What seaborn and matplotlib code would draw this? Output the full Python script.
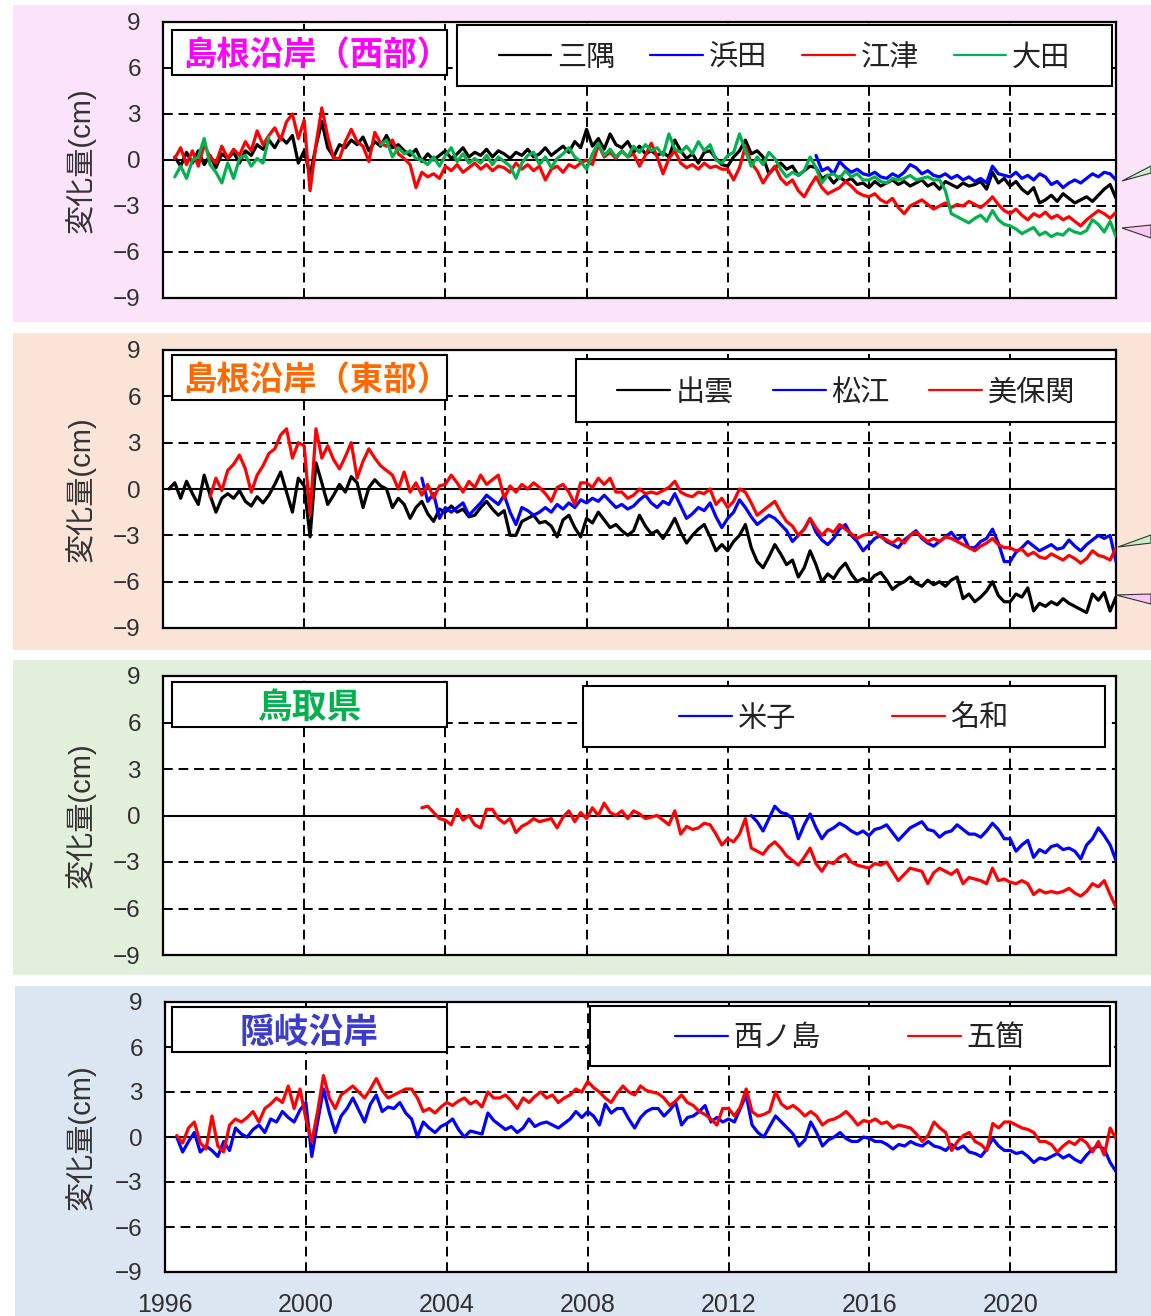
import numpy as np
import matplotlib
matplotlib.use("Agg")
import matplotlib.pyplot as plt
import seaborn as sns
from matplotlib.patches import Rectangle, Polygon
from matplotlib.lines import Line2D
from matplotlib.font_manager import FontProperties

nan = np.nan
STEP = 1 / 6  # two-monthly samples (years)

# ---------------- 島根沿岸(西部) ----------------
misumi_start = 1996 + 2 / 6
misumi = [
    0.2, -0.4, 0.5, -0.2,
    0.6, -0.3, 0.3, -0.5, 0.4, 0.1,
    0.5, -0.2, 0.6, 0.3, 1.0, 0.7,
    1.3, 0.8, 1.5, 1.1, 1.6, -0.2,
    0.6, -1.0, 0.9, 2.5, 0.8, 0.2,
    1.0, 0.8, 1.3, 1.0, 1.5, 0.6,
    1.2, 0.9, 1.6, 0.8, 1.0, 0.6,
    0.3, 0.7, -0.1, 0.4, 0.0, 0.3,
    0.6, 0.1, 0.4, 0.8, 0.2, 0.5,
    0.3, 0.7, 0.2, 0.6, 0.4, 0.1,
    0.5, 0.3, 0.7, 0.2, 0.4, 0.8,
    0.3, 0.6, 0.9, 0.5, 1.2, 0.8,
    2.0, 0.9, 1.4, 0.7, 1.7, 1.0,
    0.8, 1.2, 0.5, 0.9, 0.4, 0.6,
    0.3, 0.5, 0.2, 1.3, 0.6, 0.1,
    0.4, -0.2, 0.5, 0.6, 0.1, -0.3,
    -0.4, 0.2, 0.6, 1.3, 0.4, 0.6,
    0.2, -0.9, -0.5, -0.2, -0.6, -0.4,
    -1.0, -0.7, -0.4, -0.5, -1.2, -1.0,
    -1.5, -1.1, -1.4, -1.2, -1.6, -1.5,
    -1.8, -1.4, -1.7, -1.5, -1.3, -1.6,
    -1.4, -1.7, -1.5, -1.3, -1.7, -1.5,
    -1.9, -1.4, -1.6, -1.8, -1.5, -1.7,
    -1.6, -1.4, -1.9, -0.8, -1.5, -1.2,
    -1.7, -1.4, -1.9, -2.2, -1.8, -2.8,
    -2.6, -2.3, -2.7, -2.2, -2.5, -2.8,
    -2.6, -2.4, -2.7, -2.3, -1.9, -1.6,
    -2.5,
]
hamada_start = 2014.5
hamada = [
    0.3, -0.7, -0.5,
    -0.9, -0.1, -0.5, -0.8, -0.6, -0.9,
    -1.0, -0.8, -1.1, -1.2, -0.9, -1.1,
    -0.8, -0.3, -0.5, -0.9, -0.7, -1.0,
    -1.1, -0.9, -1.2, -1.0, -1.3, -1.1,
    -1.4, -1.2, -1.5, -0.4, -0.9, -1.0,
    -1.1, -0.8, -1.2, -1.0, -1.3, -0.9,
    -1.1, -1.6, -1.4, -1.8, -1.5, -1.3,
    -1.5, -1.2, -0.9, -1.1, -0.8, -0.9,
    -1.3,
]
gotsu_start = 1996 + 2 / 6
gotsu = [
    0.1, 0.8, -0.3, 0.6,
    -0.4, 1.0, 0.2, -0.2, 0.9, 0.1,
    0.7, 0.3, 1.2, 0.6, 1.9, 1.0,
    1.6, 2.1, 1.3, 2.5, 3.0, 1.4,
    2.6, -2.0, 1.0, 3.4, 1.5, 0.1,
    0.1, 1.2, 2.0, 1.2, 0.9, -0.1,
    1.8, 1.1, 0.9, 1.3, 0.4, 0.1,
    -0.3, -1.8, -0.8, -1.1, -0.9, -1.2,
    -0.4, -0.7, -0.3, -0.8, -0.5, -0.2,
    -0.6, -0.3, -0.7, -0.4, -0.5, -0.8,
    -0.2, -0.6, -0.3, -0.7, -0.4, -1.3,
    -0.6, -0.4, -0.8, -0.3, -0.5, -0.2,
    0.0, -0.3, 1.0, 0.2, 0.5, 0.1,
    0.6, 0.2, 0.4, -0.4, 0.3, 1.1,
    0.2, -0.9, 0.1, 0.6, -0.2, -0.5,
    -0.3, -0.6, -0.2, -0.5, -0.4, -0.6,
    -0.6, -1.3, -0.5, 0.9, -0.2, -0.7,
    -1.5, -0.9, -0.4, -1.2, -1.6, -1.3,
    -2.0, -2.4, -1.7, -1.1, -1.8, -2.2,
    -2.0, -1.8, -1.4, -1.7, -2.1, -2.3,
    -2.4, -2.2, -2.6, -2.8, -2.5, -3.1,
    -3.5, -3.0, -2.8, -2.6, -2.9, -3.2,
    -3.0, -2.8, -3.1, -2.9, -3.0, -2.7,
    -2.9, -3.1, -2.8, -2.4, -2.9, -3.3,
    -3.5, -3.2, -3.6, -3.9, -3.5, -3.7,
    -3.4, -3.8, -3.6, -3.9, -3.7, -4.0,
    -4.3, -3.9, -3.6, -3.3, -3.5, -3.8,
    -3.4,
]
ooda_start = 1996 + 2 / 6
ooda = [
    -1.1, -0.4, -1.2, 0.0,
    0.2, 1.4, -0.3, -0.8, -1.5, -0.2,
    -1.2, 0.1, 0.3, -0.4, 0.1, -0.2,
    1.5, nan, nan, nan, nan, nan,
    nan, nan, nan, nan, nan, nan,
    nan, nan, nan, nan, nan, nan,
    nan, 1.0, 1.3, 0.2, 0.8, 0.4,
    0.6, 0.1, 0.0, -0.3, 0.2, -0.4,
    0.3, 0.8, -0.1, 0.4, -0.2, 0.1,
    -0.2, 0.3, -0.3, 0.2, -0.1, -0.4,
    -1.2, -0.2, 0.3, 0.5, -0.3, 0.2,
    -0.5, 0.1, 0.4, 0.8, 0.2, -0.1,
    -0.6, 0.4, 1.1, 0.3, 0.7, 0.2,
    0.6, 0.2, 0.9, 0.5, 1.0, 0.6,
    0.8, 0.3, 1.7, 0.7, 0.5, 0.9,
    0.4, 1.2, 0.6, 1.0, 0.0, -0.2,
    0.3, 0.5, 1.7, 0.6, -0.4, 0.2,
    -0.3, 0.5, 0.1, -0.6, -1.1, -0.8,
    -1.0, -0.7, 0.2, -0.5, -1.5, -1.0,
    -0.9, -1.2, -0.7, -1.1, -0.9, -1.3,
    -1.3, -1.1, -1.4, -1.5, -1.2, -1.3,
    -1.2, -1.0, -1.3, -1.2, -1.1, -1.3,
    -1.3, -2.0, -3.5, -3.7, -3.9, -4.1,
    -3.8, -3.6, -4.0, -3.3, -3.9, -4.2,
    -4.3, -4.5, -4.8, -4.6, -4.4, -4.9,
    -4.7, -5.0, -4.8, -4.9, -4.5, -4.7,
    -4.8, -4.6, -3.9, -4.2, -4.7, -4.0,
    -5.0,
]

# ---------------- 島根沿岸(東部) ----------------
izumo_start = 1996 + 1 / 6
izumo = [
    0.0, 0.4, -0.6, 0.5, -0.3,
    -1.0, 0.9, -0.4, -1.5, -0.6, -0.3,
    -0.6, -0.1, -0.8, -1.1, -0.5, -0.9,
    -0.4, 0.3, 1.1, -0.2, -1.5, 0.7,
    0.2, -3.1, 1.7, 0.4, -1.0, -0.4,
    0.3, -0.2, 0.8, 0.4, -1.2, 0.1,
    0.6, 0.2, 0.0, -1.2, -0.6, -1.0,
    -1.9, -1.2, -0.8, -1.6, -2.1, -1.3,
    -1.5, -1.1, -1.5, -1.3, -1.8, -1.7,
    -1.2, -0.8, -1.3, -1.7, -1.4, -3.0,
    -3.0, -2.1, -1.9, -1.7, -2.2, -2.1,
    -2.4, -3.1, -2.0, -1.7, -2.5, -3.1,
    -1.9, -2.2, -1.5, -2.0, -2.5, -2.3,
    -2.7, -3.0, -2.7, -1.7, -2.4, -2.9,
    -2.7, -3.2, -2.6, -1.9, -2.8, -3.5,
    -3.0, -2.6, -2.3, -3.1, -4.0, -3.6,
    -4.0, -3.4, -3.0, -2.3, -3.8, -4.7,
    -5.1, -4.4, -3.6, -4.2, -4.9, -4.6,
    -5.7, -5.1, -4.0, -4.9, -6.0, -5.5,
    -5.8, -5.2, -4.8, -5.5, -6.0, -5.8,
    -6.0, -5.6, -5.4, -5.9, -6.5, -6.2,
    -6.0, -5.7, -6.1, -6.3, -5.9, -6.2,
    -6.0, -6.3, -5.9, -5.7, -7.1, -6.8,
    -7.3, -7.0, -6.6, -6.0, -6.9, -7.3,
    -7.3, -6.8, -7.0, -6.4, -7.9, -7.4,
    -7.6, -7.3, -7.5, -7.1, -7.4, -7.6,
    -7.8, -8.0, -6.8, -7.2, -6.7, -7.9,
    -7.0,
]
matsue_start = 2003 + 2 / 6
matsue = [
    0.7, -0.8, -0.3, -1.9,
    -1.2, -1.5, -1.2, -0.9, -1.7, -1.3,
    -0.9, -0.4, -0.7, -1.0, -0.4, -1.5,
    -2.3, -1.2, -1.4, -1.7, -1.5, -1.2,
    -1.5, -1.0, -1.3, -0.9, -1.2, -0.7,
    -0.9, -0.6, -0.8, -0.4, -0.8, -1.2,
    -1.0, -1.3, -1.1, -0.7, -0.4, -0.9,
    -1.2, -0.8, -1.0, -0.3, -1.1, -1.9,
    -1.6, -1.2, -1.4, -0.9, -1.8, -2.5,
    -1.9, -1.5, -0.7, -1.2, -1.8, -2.3,
    -2.0, -1.7, -1.9, -2.3, -2.7, -3.4,
    -3.0, -2.6, -1.9, -2.8, -3.3, -3.6,
    -3.2, -2.6, -2.3, -3.0, -3.4, -4.0,
    -3.6, -3.2, -3.0, -3.4, -3.6, -3.8,
    -3.3, -3.0, -2.7, -3.2, -3.5, -3.7,
    -3.4, -3.1, -2.8, -3.3, -3.0, -3.8,
    -3.8, -3.4, -3.2, -2.6, -3.5, -4.7,
    -4.7, -4.1, -3.8, -3.4, -3.7, -4.0,
    -3.8, -3.6, -3.9, -3.8, -3.3, -3.7,
    -4.0, -3.6, -3.3, -3.0, -3.2, -3.0,
    -4.7,
]
mihonoseki_start = 1997 + 2 / 6
mihonoseki = [
    -0.5, 0.7, -0.1, 1.2,
    1.6, 2.2, 1.3, -0.2, 0.9, 1.5,
    2.3, 2.6, 3.5, 3.9, 2.0, 3.0,
    2.8, -1.7, 3.9, 2.0, 2.8, 1.9,
    1.3, 2.1, 3.0, 0.7, 1.8, 2.6,
    2.0, 1.5, 1.2, 0.9, 0.0, 1.1,
    -0.2, 0.4, -0.4, 0.3, -0.6, 0.2,
    0.3, 0.9, 0.4, -0.2, 0.5, 0.1,
    0.9, 0.3, 0.6, 0.9, -0.6, 0.2,
    -0.2, 0.3, 0.0, 0.4, 0.1, -0.3,
    -0.8, 0.1, 0.3, -0.2, -1.0, 0.4,
    0.4, 0.1, 0.7, 0.3, 0.7, -0.2,
    -0.2, -0.6, -0.4, 0.0, -0.3, -0.2,
    -0.3, -0.1, 0.1, 0.5, -0.2, -0.4,
    -0.5, -0.2, -0.3, 0.0, -1.0, -0.6,
    -1.2, -0.8, 0.0, -0.2, -0.9, -1.7,
    -1.4, -1.1, -0.8, -1.5, -2.1, -2.4,
    -3.0, -2.6, -1.9, -2.5, -3.0, -2.6,
    -2.8, -2.3, -2.6, -2.9, -3.2, -3.0,
    -2.9, -2.8, -3.1, -3.3, -3.5, -3.2,
    -3.5, -3.0, -2.8, -3.1, -3.4, -3.2,
    -3.4, -3.1, -3.2, -3.4, -3.6, -3.8,
    -4.0, -3.7, -3.5, -3.2, -3.6, -3.8,
    -3.8, -4.0, -3.9, -4.3, -4.1, -4.4,
    -4.5, -4.2, -4.4, -4.6, -4.3, -4.5,
    -4.8, -4.5, -4.0, -4.3, -4.4, -4.6,
    -3.8,
]

# ---------------- 鳥取県 ----------------
yonago_start = 2012 + 4 / 6
yonago = [
    0.0, -0.4,
    -1.0, -0.2, 0.6, 0.2, 0.1, -0.2,
    -1.5, -0.6, 0.1, -0.8, -1.5, -1.0,
    -0.8, -0.5, -0.7, -1.0, -1.2, -1.0,
    -1.3, -0.9, -0.8, -0.6, -1.1, -1.6,
    -1.2, -0.8, -0.6, -0.4, -0.9, -1.0,
    -1.4, -1.1, -1.0, -0.6, -0.9, -1.2,
    -1.2, -1.4, -1.0, -0.5, -0.9, -1.5,
    -1.5, -2.3, -1.9, -1.6, -2.7, -2.2,
    -2.4, -2.0, -1.9, -2.2, -2.1, -2.3,
    -2.8, -1.9, -1.5, -0.8, -1.3, -1.9,
    -2.9,
]
nawa_start = 2003 + 2 / 6
nawa = [
    0.5, 0.6, 0.2, -0.2,
    -0.3, -0.6, 0.4, -0.3, 0.0, -0.6,
    -0.8, 0.4, 0.4, -0.2, -0.5, -0.2,
    -1.1, -0.7, -0.5, -0.2, -0.4, -0.3,
    -0.2, -0.8, -0.1, 0.3, -0.4, 0.2,
    -0.2, 0.5, 0.0, 0.8, 0.2, 0.0,
    0.3, -0.2, 0.3, 0.1, -0.2, -0.1,
    0.0, -0.3, -0.6, 0.3, -1.2, -0.7,
    -0.9, -0.8, -0.5, -0.6, -1.2, -1.9,
    -1.5, -1.7, -1.2, -0.2, -2.1, -2.3,
    -2.5, -2.0, -1.7, -2.1, -2.6, -2.9,
    -3.2, -2.7, -2.1, -3.1, -3.6, -3.0,
    -3.1, -2.7, -2.5, -3.0, -3.2, -3.3,
    -3.4, -3.1, -3.2, -3.0, -3.6, -4.2,
    -3.8, -3.4, -3.5, -3.6, -4.4, -3.7,
    -3.4, -3.6, -3.8, -3.5, -4.4, -4.0,
    -4.1, -4.2, -4.4, -3.4, -4.2, -4.1,
    -4.3, -4.4, -4.2, -4.4, -5.1, -4.8,
    -5.0, -4.9, -5.0, -4.9, -4.7, -5.0,
    -5.2, -4.9, -4.4, -4.6, -4.2, -5.1,
    -5.9,
]

# ---------------- 隠岐沿岸 ----------------
nishinoshima_start = 1996 + 2 / 6
nishinoshima = [
    0.0, -1.0, -0.3, 0.3,
    -1.0, -0.6, -0.9, -1.3, -0.3, -0.9,
    0.6, 0.2, 0.0, 0.5, 0.8, 0.3,
    1.2, 1.0, 1.7, 1.3, 1.0, 1.8,
    2.3, -1.3, 1.0, 3.2, 1.6, 0.3,
    1.4, 1.9, 2.6, 1.8, 1.0, 2.2,
    2.8, 1.7, 2.0, 1.9, 2.3, 1.6,
    1.2, 0.0, 1.0, 0.6, 0.3, 0.7,
    0.9, 1.2, 0.5, 0.0, 0.4, 0.3,
    0.2, 1.6, 1.1, 0.8, 0.5, 0.7,
    0.3, 0.6, 1.2, 0.7, 0.9, 1.0,
    0.8, 0.6, 0.9, 1.2, 1.7, 1.3,
    1.7, 1.4, 0.8, 2.2, 1.6, 1.9,
    1.9, 1.2, 0.6, 1.3, 1.7, 1.9,
    1.9, 1.4, 1.8, 2.3, 0.8, 1.3,
    1.4, 1.7, 2.1, 1.0, 1.3, 1.0,
    1.2, 1.0, 1.9, 2.8, 0.8, 0.3,
    0.0, 0.7, 1.4, 1.0, 0.6, 0.2,
    -0.6, -0.2, 1.0, 0.3, -0.6, -0.2,
    0.0, 0.3, -0.1, -0.3, -0.3, 0.0,
    -0.1, -0.3, -0.3, -0.5, -0.8, -0.5,
    -0.6, -0.3, -0.5, -0.6, -0.3, -0.6,
    -0.7, -0.9, -0.5, -0.8, -0.6, -1.0,
    -1.1, -1.3, -0.8, -0.1, -0.6, -0.9,
    -0.9, -1.1, -1.0, -1.3, -1.7, -1.4,
    -1.5, -1.3, -1.1, -1.4, -1.2, -1.5,
    -1.7, -1.2, -0.8, -0.6, -0.8, -1.7,
    -2.3,
]
goka_start = 1996 + 2 / 6
goka = [
    0.1, -0.4, 0.6, 1.0,
    -0.4, -0.8, 1.4, -0.6, -1.0, 0.8,
    1.2, 1.0, 1.3, 1.7, 1.0, 1.9,
    2.2, 2.6, 2.3, 3.4, 1.9, 3.2,
    1.2, -0.3, 1.7, 4.1, 2.6, 1.9,
    2.8, 3.1, 3.4, 3.0, 2.6, 3.2,
    3.9, 3.1, 2.6, 2.8, 3.0, 3.2,
    3.2, 2.6, 1.7, 1.9, 1.6, 2.0,
    2.3, 2.1, 2.4, 2.6, 2.2, 2.4,
    2.0, 3.0, 2.6, 2.6, 2.8, 2.4,
    1.9, 2.6, 2.3, 2.7, 3.0, 2.6,
    2.8, 2.3, 2.6, 2.8, 3.2, 3.0,
    3.7, 3.3, 3.0, 2.6, 2.3, 2.9,
    3.4, 3.0, 2.8, 3.4, 3.1, 3.0,
    2.9, 2.6, 2.1, 2.4, 2.8, 2.3,
    2.1, 1.7, 1.5, 1.2, 0.8, 1.9,
    1.9, 1.4, 2.0, 3.2, 1.7, 1.4,
    1.5, 1.7, 3.0, 2.2, 1.9, 2.1,
    1.8, 1.4, 1.7, 1.4, 0.8, 1.1,
    1.2, 1.4, 1.7, 1.3, 0.8, 1.1,
    1.0, 1.2, 0.9, 1.0, 0.6, 0.8,
    0.7, 0.6, 0.2, -0.3, 0.1, 1.0,
    0.6, 0.3, -0.9, -0.3, 0.1, 0.3,
    -0.3, -0.5, -0.9, 0.9, 0.6, 1.0,
    1.0, 0.8, 0.6, 0.5, 0.3, -0.3,
    -0.3, -0.5, -1.0, -0.6, -0.3, -0.5,
    -0.1, -0.4, -1.0, -0.3, -1.2, 0.6,
    -0.1,
]

x_ticks = [1996, 2000, 2004, 2008, 2012, 2016, 2020]
y_ticks = [-9, -6, -3, 0, 3, 6, 9]
x_range = (1996, 2023)
y_range = (-9, 9)

BLACK, BLUE, RED, GREEN = "#000000", "#0000FF", "#FF0000", "#00B050"

# layout in pixels: (left, top, right, bottom)
panels = [
    dict(title="島根沿岸（西部）", title_color="#FF00FF", title_size=24, title_dx=7,
         bg="#FBE3F9",
         series=[("三隅", misumi_start, misumi, BLACK),
                 ("浜田", hamada_start, hamada, BLUE),
                 ("江津", gotsu_start, gotsu, RED),
                 ("大田", ooda_start, ooda, GREEN)],
         band=(13, 5, 1151, 322), axes=(163, 22, 1116, 298),
         tbox=(172, 30, 447, 75), lbox=(457, 25, 1112, 86), colsp=1.2,
         callouts=[((1122, 181), (1151, 166), (1151, 173), "#C8F0C8"),
                   ((1122, 228), (1151, 225), (1151, 238), "#F6C8F2")]),
    dict(title="島根沿岸（東部）", title_color="#FF6A00", title_size=24, title_dx=7,
         bg="#F9E4D7",
         series=[("出雲", izumo_start, izumo, BLACK),
                 ("松江", matsue_start, matsue, BLUE),
                 ("美保関", mihonoseki_start, mihonoseki, RED)],
         band=(13, 333, 1151, 650), axes=(163, 350, 1116, 628),
         tbox=(172, 355, 447, 400), lbox=(576, 359, 1116, 422), colsp=1.35,
         callouts=[((1118, 547), (1151, 535), (1151, 543), "#C8F0C8"),
                   ((1116, 595), (1151, 594), (1151, 604), "#F6C8F2")]),
    dict(title="鳥取県", title_color="#00B050", title_size=25, title_dx=0,
         bg="#E2EFDA",
         series=[("米子", yonago_start, yonago, BLUE),
                 ("名和", nawa_start, nawa, RED)],
         band=(13, 660, 1151, 975), axes=(163, 676, 1116, 955),
         tbox=(172, 682, 447, 727), lbox=(583, 686, 1105, 747), colsp=3.3,
         callouts=[]),
    dict(title="隠岐沿岸", title_color="#3C3CCB", title_size=25, title_dx=0,
         bg="#DCE6F2",
         series=[("西ノ島", nishinoshima_start, nishinoshima, BLUE),
                 ("五箇", goka_start, goka, RED)],
         band=(15, 986, 1151, 1316), axes=(165, 1002, 1116, 1272),
         tbox=(172, 1007, 447, 1052), lbox=(590, 1006, 1110, 1066), colsp=3.0,
         callouts=[]),
]

W, H = 1151, 1316
sns.set_style("white")
plt.rcParams["font.family"] = ["Liberation Sans", "Noto Sans CJK JP", "DejaVu Sans"]
plt.rcParams["axes.unicode_minus"] = True

fig = plt.figure(figsize=(W / 100, H / 100), dpi=100, facecolor="white")


def fx(px):
    return px / W


def fy(py):
    return 1 - py / H


def fig_rect(box, **kw):
    l, t, r, b = box
    return Rectangle((fx(l), fy(b)), (r - l) / W, (b - t) / H,
                     transform=fig.transFigure, **kw)


def runs(t, v):
    """Split a series into contiguous non-missing runs."""
    ok = ~np.isnan(v)
    idx = np.flatnonzero(np.diff(np.r_[0, ok.astype(int), 0]))
    for s, e in zip(idx[::2], idx[1::2]):
        yield t[s:e], v[s:e]


cjk = "Noto Sans CJK JP"
tick_color = "#303030"

for i, p in enumerate(panels):
    fig.add_artist(fig_rect(p["band"], facecolor=p["bg"], edgecolor="none", zorder=-5))

    l, t, r, b = p["axes"]
    ax = fig.add_axes([fx(l), fy(b), (r - l) / W, (b - t) / H])
    ax.set_facecolor("white")
    ax.set_axisbelow(True)

    handles = []
    for name, start, vals, color in p["series"]:
        v = np.asarray(vals, dtype=float)
        tt = start + np.arange(len(v)) * STEP
        for seg_t, seg_v in runs(tt, v):
            sns.lineplot(x=seg_t, y=seg_v, ax=ax, color=color, linewidth=2.3,
                         estimator=None, sort=False, legend=False, zorder=3)
        handles.append(Line2D([], [], color=color, linewidth=1.6, label=name))

    ax.set_xlim(*x_range)
    ax.set_ylim(*y_range)
    ax.set_xticks(x_ticks)
    ax.set_yticks(y_ticks)
    ax.grid(True, color="black", linestyle=(0, (5, 3)), linewidth=1.4, zorder=1)
    ax.axhline(0, color="black", linewidth=1.5, zorder=2)
    for s in ax.spines.values():
        s.set_color("black")
        s.set_linewidth(1.6)
        s.set_visible(True)
    ax.tick_params(axis="both", length=0, labelsize=17.5, labelcolor=tick_color)
    ax.tick_params(axis="y", pad=16)
    ax.tick_params(axis="x", pad=15, labelsize=18)
    ax.set_xlabel("")
    ax.set_ylabel("")
    if i < len(panels) - 1:
        ax.tick_params(axis="x", labelbottom=False)

    fig.text(fx(80), fy((t + b) / 2), "変化量(cm)", rotation=90, ha="center",
             va="center", fontsize=21, color="#333333")

    # title box
    fig.add_artist(fig_rect(p["tbox"], facecolor="white", edgecolor="black",
                            linewidth=1.5, zorder=4))
    tl, tt_, tr, tb = p["tbox"]
    fig.text(fx((tl + tr) / 2 + p["title_dx"]), fy((tt_ + tb) / 2 + 3), p["title"],
             ha="center", va="center", fontsize=p["title_size"], fontweight="bold",
             color=p["title_color"], family=[cjk], zorder=6)

    # legend box
    fig.add_artist(fig_rect(p["lbox"], facecolor="white", edgecolor="black",
                            linewidth=1.5, zorder=4))
    ll, lt, lr, lb = p["lbox"]
    fig.legend(handles=handles, loc="center",
               bbox_to_anchor=(fx((ll + lr) / 2), fy((lt + lb) / 2 + 2)),
               bbox_transform=fig.transFigure, ncol=len(handles), frameon=False,
               prop=FontProperties(family=cjk, size=21), labelcolor="#222222",
               handlelength=1.8, handletextpad=0.2, columnspacing=p["colsp"],
               borderaxespad=0, borderpad=0)

    for tip, a, c, col in p["callouts"]:
        pts = [(fx(tip[0]), fy(tip[1])), (fx(a[0]), fy(a[1])), (fx(c[0]), fy(c[1]))]
        fig.add_artist(Polygon(pts, closed=True, transform=fig.transFigure,
                               facecolor=col, edgecolor="#333333", linewidth=0.8,
                               zorder=4))

fig.savefig("out.png", dpi=100, facecolor="white")
